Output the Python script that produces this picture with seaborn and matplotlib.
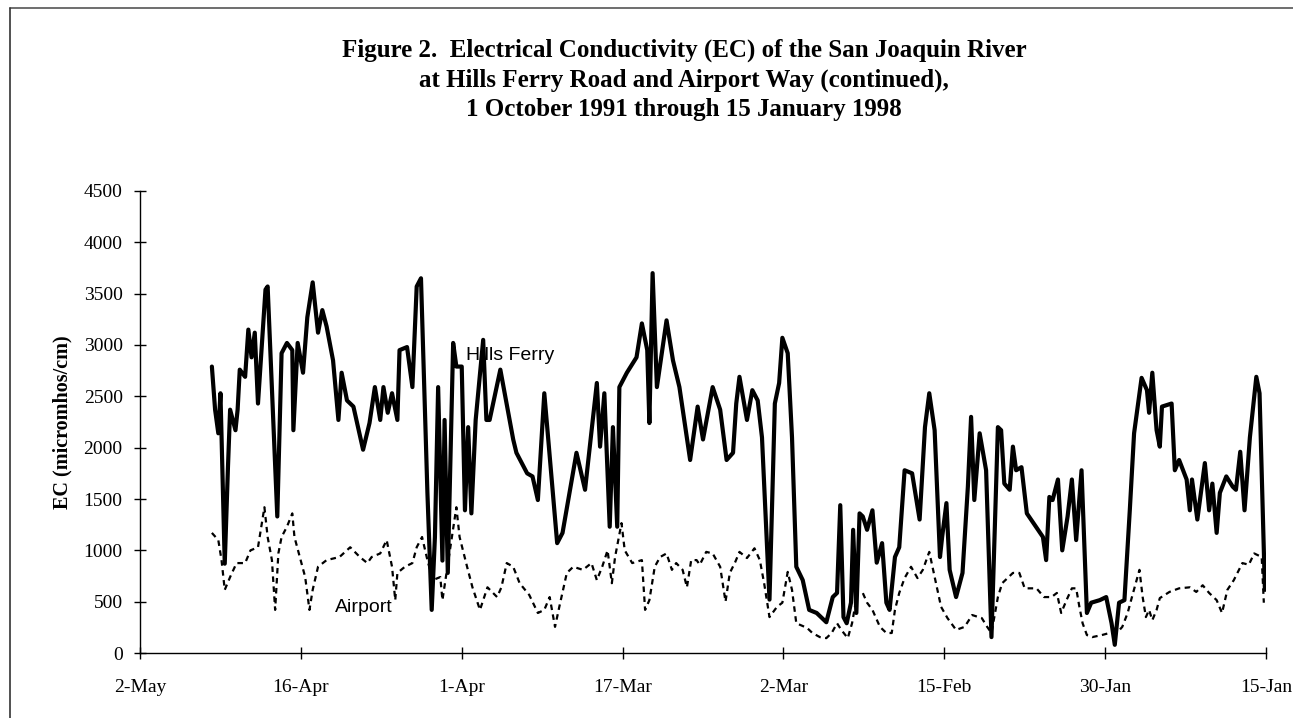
import pandas as pd
import matplotlib
matplotlib.use("Agg")
import matplotlib.pyplot as plt
import seaborn as sns
from matplotlib.lines import Line2D

sns.set_style("white")
plt.rcParams['font.family'] = ['Liberation Serif', 'DejaVu Serif']
plt.rcParams.update({'text.color': 'black', 'axes.labelcolor': 'black',
                     'xtick.color': 'black', 'ytick.color': 'black'})

# x axis: days along the (reversed) date axis, ticks every 15 days
tick_days = [0, 15, 30, 45, 60, 75, 90, 105]
tick_labels = ["2-May", "16-Apr", "1-Apr", "17-Mar", "2-Mar", "15-Feb", "30-Jan", "15-Jan"]

# Hills Ferry EC (micromhos/cm)
hf_day = [6.7, 7.0, 7.3, 7.5, 7.9, 8.2, 8.4, 8.9, 9.1, 9.3, 9.8, 10.1, 10.4, 10.7, 11.0,
          11.7, 11.9, 12.8, 13.2, 13.7, 14.2, 14.3, 14.7, 15.2, 15.6, 16.1, 16.6, 17.0,
          17.4, 18.0, 18.5, 18.8, 19.3, 19.9, 20.8, 21.4, 21.9, 22.4, 22.7, 23.1, 23.5,
          24.0, 24.2, 24.9, 25.4, 25.8, 26.2, 26.8, 27.2, 27.5, 27.8, 28.2, 28.4, 28.7,
          29.2, 29.5, 30.0, 30.3, 30.6, 30.9, 31.3, 32.0, 32.3, 32.6, 33.6, 34.8, 35.1,
          36.1, 36.6, 37.1, 37.7, 38.9, 39.4, 40.7, 41.5, 42.6, 42.9, 43.3, 43.8, 44.1,
          44.5, 44.7, 45.4, 46.3, 46.8, 47.3, 47.5, 47.8, 48.2, 48.7, 49.1, 49.7, 50.3,
          51.3, 52.0, 52.5, 53.4, 54.1, 54.7, 55.3, 55.6, 55.9, 56.6, 57.1, 57.6, 58.0,
          58.7, 59.2, 59.6, 59.9, 60.4, 60.8, 61.2, 61.8, 62.4, 63.1, 64.0, 64.6, 65.0,
          65.3, 65.6, 65.9, 66.3, 66.5, 66.8, 67.1, 67.4, 67.8, 68.3, 68.7, 69.2, 69.6,
          69.9, 70.4, 70.8, 71.3, 72.0, 72.7, 73.2, 73.6, 74.1, 74.6, 74.8, 75.2, 75.5,
          76.1, 76.7, 77.2, 77.5, 77.8, 78.3, 78.9, 79.2, 79.4, 80.0, 80.3, 80.6, 81.1,
          81.4, 81.7, 82.2, 82.7, 84.2, 84.5, 84.8, 85.1, 85.6, 86.0, 86.5, 86.9, 87.3,
          87.8, 88.3, 88.7, 89.5, 90.1, 90.6, 90.9, 91.3, 91.8, 92.3, 92.7, 93.4, 93.9,
          94.1, 94.4, 94.8, 95.1, 95.3, 96.2, 96.5, 96.9, 97.6, 97.9, 98.1, 98.6, 99.3,
          99.7, 100.0, 100.4, 100.7, 101.3, 101.9, 102.2, 102.6, 103.0, 103.5, 104.1,
          104.4, 104.9]
hf_ec = [2790, 2370, 2140, 2530, 870, 1810, 2370, 2170, 2370, 2760, 2690, 3150, 2880, 3120, 2430,
         3540, 3570, 1330, 2920, 3020, 2950, 2170, 3020, 2730, 3270, 3610, 3120, 3340,
         3180, 2850, 2270, 2730, 2460, 2400, 1980, 2240, 2590, 2270, 2590, 2340, 2530,
         2270, 2950, 2980, 2590, 3570, 3650, 1560, 420, 1130, 2590, 900, 2270, 780,
         3020, 2790, 2790, 1390, 2200, 1360, 2270, 3050, 2270, 2270, 2760, 2080, 1950,
         1750, 1720, 1490, 2530, 1070, 1170, 1950, 1590, 2630, 2010, 2530, 1230, 2200,
         1230, 2590, 2730, 2880, 3210, 2950, 2240, 3700, 2590, 2950, 3240, 2850, 2590,
         1880, 2400, 2080, 2590, 2370, 1880, 1950, 2430, 2690, 2270, 2560, 2460, 2100,
         520, 2430, 2630, 3070, 2920, 2100, 840, 710, 420, 390, 300, 545, 585,
         1440, 350, 290, 490, 1200, 390, 1360, 1330, 1200, 1390, 880, 1070, 490,
         420, 935, 1030, 1780, 1750, 1300, 2200, 2530, 2170, 935, 1130, 1460, 810,
         545, 780, 1620, 2300, 1490, 2140, 1780, 810, 155, 2200, 2170, 1650, 1590,
         2010, 1780, 1810, 1360, 1130, 905, 1520, 1490, 1690, 1000, 1330, 1690, 1100,
         1780, 390, 490, 515, 545, 290, 80, 490, 515, 1390, 2140, 2680, 2560,
         2340, 2730, 2170, 2010, 2400, 2430, 1780, 1880, 1690, 1390, 1690, 1300, 1850,
         1390, 1650, 1170, 1560, 1720, 1620, 1590, 1960, 1390, 2100, 2690,
         2530, 615]

# Airport Way EC (micromhos/cm)
ap_day = [6.7, 7.3, 7.6, 7.9, 8.4, 9.0, 9.8, 10.3, 11.0, 11.6, 11.9, 12.3, 12.6, 12.9, 13.2,
          13.7, 14.2, 14.4, 14.9, 15.4, 15.8, 16.1, 16.6, 17.4, 18.6, 19.6, 20.5, 21.2,
          21.6, 22.4, 23.0, 23.5, 23.8, 24.0, 24.7, 25.4, 25.8, 26.3, 26.8, 27.3, 28.0,
          28.2, 28.9, 29.5, 29.8, 30.5, 31.0, 31.7, 32.4, 33.3, 33.7, 34.2, 34.8, 35.4,
          36.3, 37.1, 37.7, 38.2, 38.7, 39.1, 39.8, 40.4, 41.3, 42.1, 42.6, 43.1, 43.6,
          44.0, 44.3, 44.9, 45.2, 45.9, 46.8, 47.1, 47.5, 48.0, 48.5, 49.1, 49.6, 50.0,
          50.6, 51.0, 51.4, 51.9, 52.2, 52.8, 53.4, 54.1, 54.6, 55.0, 55.5, 55.9, 56.6,
          57.3, 57.8, 58.2, 58.7, 59.4, 59.9, 60.4, 60.8, 61.2, 62.2, 62.7, 63.4, 64.0,
          64.5, 65.0, 65.4, 66.0, 66.4, 66.9, 67.4, 67.8, 68.3, 69.0, 69.6, 70.1, 70.4,
          70.8, 71.3, 71.9, 72.5, 73.0, 73.6, 74.1, 74.7, 75.3, 76.1, 76.9, 77.6, 78.5,
          79.0, 79.4, 80.0, 80.4, 81.4, 82.0, 82.5, 83.6, 84.3, 85.0, 85.5, 85.9, 86.4,
          86.9, 87.3, 87.6, 87.9, 88.3, 88.8, 89.7, 90.4, 91.1, 91.6, 92.1, 92.5, 93.2,
          93.5, 93.8, 94.1, 94.4, 94.8, 95.1, 96.0, 96.9, 97.9, 98.5, 99.1, 99.7, 100.4,
          100.9, 101.4, 102.0, 102.8, 103.4, 103.9, 104.6, 104.8]
ap_ec = [1170, 1100, 905, 615, 740, 876, 876, 1000, 1030, 1420, 1130, 905, 420, 970, 1130,
         1230, 1360, 1130, 935, 740, 420, 615, 840, 905, 935, 1030, 935, 876,
         935, 970, 1100, 840, 515, 780, 840, 876, 1030, 1130, 905, 710, 740,
         515, 1000, 1420, 1130, 840, 640, 420, 640, 545, 640, 876, 840, 680,
         565, 390, 420, 545, 255, 450, 780, 840, 810, 876, 710, 840, 1000,
         680, 935, 1265, 1000, 876, 905, 420, 515, 840, 935, 970, 810, 876,
         810, 640, 905, 905, 860, 985, 970, 840, 500, 780, 885, 985, 925,
         1020, 905, 680, 350, 450, 490, 790, 615, 290, 245, 195, 155, 145,
         195, 290, 225, 145, 290, 585, 585, 490, 420, 255, 195, 195, 420,
         585, 730, 840, 730, 810, 985, 740, 450, 340, 225, 255, 370, 340,
         255, 195, 545, 680, 780, 780, 630, 630, 545, 545, 585, 390, 515,
         630, 630, 450, 290, 175, 155, 175, 195, 195, 255, 390, 545, 810,
         545, 350, 420, 320, 420, 535, 595, 630, 640, 595, 660, 585, 515,
         390, 615, 710, 876, 860, 970, 935, 490]

df_hf = pd.DataFrame({"Day": hf_day, "EC": hf_ec})
df_ap = pd.DataFrame({"Day": ap_day, "EC": ap_ec})

fig = plt.figure(figsize=(12.93, 7.18), dpi=100)
ax = fig.add_axes([0.1083, 0.0905, 0.8708, 0.6435])

sns.lineplot(ax=ax, data=df_ap, x="Day", y="EC", estimator=None, color="black",
             linewidth=1.6, linestyle=(0, (2.5, 2.0)))
sns.lineplot(ax=ax, data=df_hf, x="Day", y="EC", estimator=None, color="black",
             linewidth=3.0)

ax.set_xlim(0, 105)
ax.set_ylim(0, 4500)
ax.set_yticks(range(0, 4501, 500))
ax.set_xticks(tick_days, tick_labels)
ax.tick_params(left=True, bottom=True, direction="inout", length=9, width=1,
               labelsize=14, colors="black", pad=8)
ax.tick_params(axis="x", pad=14)
for side in ["top", "right"]:
    ax.spines[side].set_visible(False)
for side in ["left", "bottom"]:
    ax.spines[side].set_color("black")
    ax.spines[side].set_linewidth(1)
ax.set_xlabel("")
ax.set_ylabel("EC (micromhos/cm)", fontsize=14.5, fontweight="bold", labelpad=8)

ax.text(34.5, 2900, "Hills Ferry", fontsize=14, family=["Liberation Sans"], ha="center", va="center")
ax.text(20.9, 440, "Airport", fontsize=14, family=["Liberation Sans"], ha="center", va="center")

fig.text(0.529, 0.946,
         "Figure 2.  Electrical Conductivity (EC) of the San Joaquin River\n"
         "at Hills Ferry Road and Airport Way (continued),\n"
         "1 October 1991 through 15 January 1998",
         ha="center", va="top", fontsize=18, fontweight="bold", linespacing=1.34)

# frame of the scanned page
fig.add_artist(Line2D([0.008, 1.0], [0.989, 0.989], color="#555555", linewidth=1.2))
fig.add_artist(Line2D([0.008, 0.008], [0.0, 0.989], color="#333333", linewidth=1.2))

plt.savefig("out.png", dpi=100)
